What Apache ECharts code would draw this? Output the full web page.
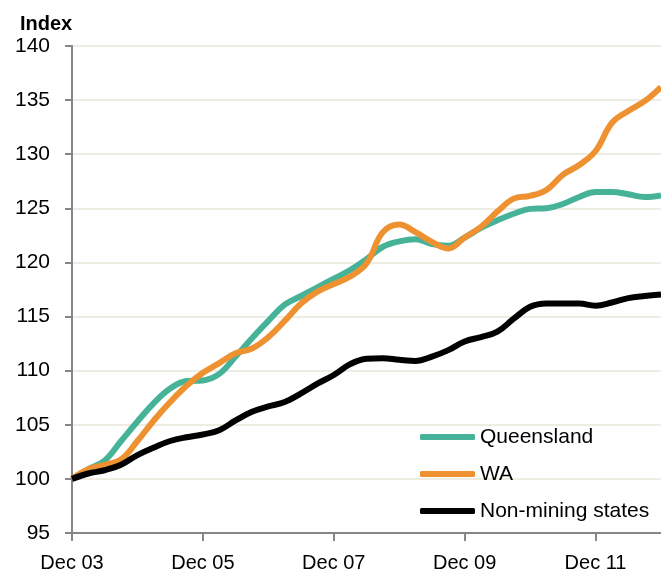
<!DOCTYPE html>
<head>
    <meta charset="utf-8"/>
    <style>
        html,body { height:100%; width:100%; margin:0; padding:0; background:#fff; }
    </style>
</head>
<body>
<div id="chart" style="width:661px;height:573px"></div>

<script src="https://cdn.jsdelivr.net/npm/echarts@6/dist/echarts.min.js"></script>
<script type="text/javascript">

 // quarters Dec 03 .. Dec 12
 var quarters = ['Dec 03','Mar 04','Jun 04','Sep 04','Dec 04','Mar 05','Jun 05','Sep 05',
                 'Dec 05','Mar 06','Jun 06','Sep 06','Dec 06','Mar 07','Jun 07','Sep 07',
                 'Dec 07','Mar 08','Jun 08','Sep 08','Dec 08','Mar 09','Jun 09','Sep 09',
                 'Dec 09','Mar 10','Jun 10','Sep 10','Dec 10','Mar 11','Jun 11','Sep 11',
                 'Dec 11','Mar 12','Jun 12','Sep 12','Dec 12'];

 var queensland = [100.0,100.9,101.7,103.5,105.3,107.0,108.35,109.05,
                   109.1,109.7,111.3,113.0,114.6,116.1,116.9,117.7,
                   118.5,119.3,120.3,121.45,121.95,122.15,121.7,121.55,
                   122.3,123.2,123.9,124.5,124.95,125.0,125.4,126.05,
                   126.5,126.5,126.3,126.05,126.2];

 var wa = [100.0,100.9,101.3,101.8,103.5,105.4,107.1,108.6,
           109.8,110.7,111.6,112.05,113.1,114.6,116.2,117.3,
           118.0,118.7,119.9,122.8,123.5,122.8,121.9,121.3,
           122.3,123.3,124.7,125.9,126.15,126.7,128.1,129.0,
           130.3,132.9,134.0,134.9,136.2];

 var nonMining = [100.0,100.5,100.8,101.3,102.2,102.9,103.5,103.85,
                  104.1,104.5,105.4,106.2,106.7,107.1,107.9,108.8,
                  109.6,110.6,111.1,111.15,111.0,110.9,111.3,111.9,
                  112.7,113.1,113.6,114.8,115.9,116.2,116.2,116.2,
                  116.0,116.3,116.7,116.9,117.05];

 var seriesNames = ['Queensland','WA','Non-mining states'];
 var seriesColors = ['#46B398','#EE9130','#000000'];

 var font = 'Liberation Sans';

 var myChart = echarts.init(document.getElementById('chart'));

 function makeLine(name, data, color) {
     return {
         name: name,
         type: 'line',
         data: data,
         smooth: 0.4,
         symbol: 'none',
         lineStyle: { color: color, width: 6 },
         itemStyle: { color: color }
     };
 }

 var option = {
     animation: false,
     backgroundColor: '#ffffff',
     title: {
         text: 'Index',
         left: 15,
         top: 9,
         textStyle: { fontFamily: font, fontSize: 20, fontWeight: 'bold', color: '#000' }
     },
     legend: {
         orient: 'vertical',
         left: 420,
         top: 425,
         padding: 0,
         itemWidth: 55,
         itemHeight: 6,
         itemGap: 13,
         icon: 'roundRect',
         data: seriesNames,
         textStyle: { fontFamily: font, fontSize: 21, lineHeight: 24, color: '#000' }
     },
     grid: {
         left: 72,
         top: 46,
         width: 592.6,
         height: 488.3,
         containLabel: false
     },
     xAxis: {
         type: 'category',
         data: quarters,
         boundaryGap: false,
         axisLine: { lineStyle: { color: '#868686', width: 2 } },
         axisTick: { show: true, interval: 7, length: 8, lineStyle: { color: '#868686', width: 2 } },
         axisLabel: { interval: 7, margin: 20, fontFamily: font, fontSize: 20, color: '#000' },
         splitLine: { show: false }
     },
     yAxis: {
         type: 'value',
         min: 95,
         max: 140,
         interval: 5,
         axisLine: { show: true, lineStyle: { color: '#868686', width: 2 } },
         axisTick: { show: true, length: 7, lineStyle: { color: '#868686', width: 2 } },
         axisLabel: { margin: 22, fontFamily: font, fontSize: 21, color: '#000' },
         splitLine: { lineStyle: { color: '#EFECE3', width: 2 } }
     },
     series: [
         makeLine(seriesNames[0], queensland, seriesColors[0]),
         makeLine(seriesNames[1], wa, seriesColors[1]),
         makeLine(seriesNames[2], nonMining, seriesColors[2])
     ]
 };

 myChart.setOption(option);

</script>
</body>
